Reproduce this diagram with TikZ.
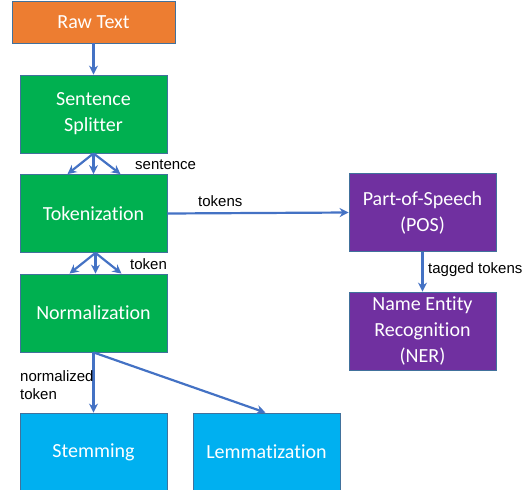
\documentclass[tikz,border=0pt]{standalone}
\usepackage{fontspec}
\setmainfont[Ligatures={NoCommon}]{Carlito}
\newfontfamily\labelfont{Liberation Sans}
\usetikzlibrary{arrows.meta}
\definecolor{cOrange}{HTML}{ED7D31}
\definecolor{cGreen}{HTML}{00B050}
\definecolor{cBlue}{HTML}{00B0F0}
\definecolor{cPurple}{HTML}{7030A0}
\definecolor{cEdge}{HTML}{41719C}
\definecolor{cArrow}{HTML}{4472C4}
\tikzset{
  box/.style={draw=cEdge, line width=0.8pt, text=white, align=center,
    font=\fontsize{20}{26}\selectfont, minimum width=147pt, minimum height=78pt,
    inner sep=0pt},
  flow/.style={draw=cArrow, line width=2.2pt, -{Stealth[length=9pt,width=9pt]}},
  lbl/.style={font=\labelfont\fontsize{15}{18}\selectfont, text=black, inner sep=0pt, align=left}
}
\begin{document}
\begin{tikzpicture}[x=1pt,y=-1pt]
\useasboundingbox (0,0) rectangle (528,490);
\node[box, fill=cOrange, minimum width=163pt, minimum height=42pt] (raw) at (93.5,22) {Raw Text};
\node[box, fill=cGreen] (split) at (93.5,114) {Sentence\\Splitter};
\node[box, fill=cGreen] (tok) at (93.5,213.5) {Tokenization};
\node[box, fill=cGreen] (norm) at (93.5,313) {Normalization};
\node[box, fill=cBlue] (stem) at (93.5,452) {Stemming};
\node[box, fill=cBlue] (lemma) at (266.5,452) {Lemmatization};
\node[box, fill=cPurple] (pos) at (422.5,212.5) {Part-of-Speech\\(POS)};
\node[box, fill=cPurple] (ner) at (422.5,331) {Name Entity\\Recognition\\(NER)};

\draw[flow] (raw.south) -- (split.north);
\draw[flow] (split.south) -- ([xshift=-26pt]tok.north);
\draw[flow] (split.south) -- (tok.north);
\draw[flow] (split.south) -- ([xshift=27pt]tok.north);
\draw[flow] (tok.east) -- (pos.west);
\draw[flow] ([xshift=2pt]tok.south) -- ([xshift=-24pt]norm.north);
\draw[flow] ([xshift=2pt]tok.south) -- ([xshift=2pt]norm.north);
\draw[flow] ([xshift=2pt]tok.south) -- ([xshift=28pt]norm.north);
\draw[flow] (norm.south) -- (stem.north);
\draw[flow] (norm.south) -- ([xshift=-1pt]lemma.north);
\draw[flow] (pos.south) -- (ner.north);

\node[lbl, anchor=west] (l1) at (135,165) {sentence};
\node[lbl, anchor=west] (l2) at (198,201) {tokens};
\node[lbl, anchor=west] (l3) at (130,264) {token};
\node[lbl, anchor=west] (l4) at (20,385) {normalized\\token};
\node[lbl, anchor=west] (l5) at (428,270) {tagged tokens};
\end{tikzpicture}
\end{document}
